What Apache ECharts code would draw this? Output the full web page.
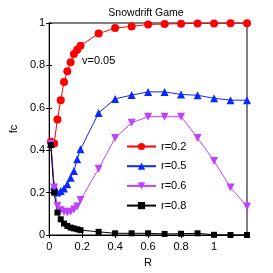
<!DOCTYPE html>
<html><head><meta charset="utf-8">
<script src="https://cdn.jsdelivr.net/npm/echarts@6/dist/echarts.min.js"></script>
<style>html,body{margin:0;padding:0;background:#fff}#c{width:273px;height:273px}</style>
</head><body><div id="c"></div>
<script>
const R = [0.01,0.03,0.05,0.07,0.09,0.11,0.13,0.15,0.17,0.19,0.3,0.4,0.5,0.6,0.7,0.8,0.9,1.0,1.1,1.2];
const fc_r02 = [0.44,0.432,0.545,0.636,0.722,0.772,0.815,0.854,0.874,0.893,0.950,0.976,0.984,0.993,0.995,0.997,0.998,0.998,0.999,0.999];
const fc_r05 = [0.43,0.231,0.2,0.208,0.219,0.239,0.27,0.302,0.357,0.404,0.576,0.642,0.66,0.675,0.675,0.663,0.659,0.645,0.636,0.636];
const fc_r06 = [0.43,0.224,0.137,0.117,0.11,0.106,0.11,0.12,0.135,0.165,0.313,0.458,0.529,0.558,0.558,0.558,0.458,0.349,0.224,0.134];
const fc_r08 = [0.424,0.2,0.106,0.074,0.054,0.043,0.035,0.031,0.027,0.023,0.015,0.008,0.008,0.008,0.005,0.006,0.008,0.001,0,0];
const seriesNames = ['r=0.2','r=0.5','r=0.6','r=0.8'];
const xTicks = [0,0.2,0.4,0.6,0.8,1];
const yTicks = [0,0.2,0.4,0.6,0.8,1];

const F = 'Liberation Sans, Arial, sans-serif';
const chart = echarts.init(document.getElementById('c'), null, {renderer:'canvas'});
const pair = a => R.map((x,i)=>[x,a[i]]);
const mk = (name, data, color, symbol, size, rotate) => ({
  name, type:'line', data: pair(data), symbol, symbolSize:size, symbolRotate: rotate||0,
  lineStyle:{color, width:1}, itemStyle:{color}, animation:false, z: 3
});
const axisCommon = {
  axisLine:{show:true, lineStyle:{color:'#000', width:1}},
  axisTick:{show:true, inside:true, length:3, lineStyle:{color:'#000'}},
  splitLine:{show:false}
};
chart.setOption({
  animation:false,
  title:{text:'Snowdrift Game', left:141, top:3, textAlign:'center',
    textStyle:{fontFamily:F, fontSize:10.5, fontWeight:'normal', color:'#000'}},
  grid:{left:36, right:26, top:23, bottom:37, show:true, borderColor:'#000', borderWidth:1},
  xAxis:[
    Object.assign({type:'value', min:0, max:1.2, interval:0.2, position:'bottom',
      name:'R', nameLocation:'middle', nameGap:22,
      nameTextStyle:{fontFamily:F, fontSize:11, color:'#000'},
      axisLabel:{fontFamily:F, fontSize:11, color:'#000', margin:6,
        formatter: v => xTicks.some(t=>Math.abs(t-v)<1e-9) ? String(+v.toFixed(1)) : ''}}, axisCommon),
    Object.assign({type:'value', min:0, max:1.2, interval:0.2, position:'top', axisLabel:{show:false}}, axisCommon)
  ],
  yAxis:[
    Object.assign({type:'value', min:0, max:1, interval:0.2, position:'left',
      name:'fc', nameLocation:'middle', nameGap:22,
      nameTextStyle:{fontFamily:F, fontSize:11, color:'#000'},
      axisLabel:{fontFamily:F, fontSize:11, color:'#000', margin:4,
        formatter: v => yTicks.some(t=>Math.abs(t-v)<1e-9) ? String(+v.toFixed(1)) : ''}}, axisCommon),
    Object.assign({type:'value', min:0, max:1, interval:0.2, position:'right', axisLabel:{show:false}}, axisCommon)
  ],
  legend:{orient:'vertical', left:126, top:141, padding:0, itemWidth:29, itemHeight:9, itemGap:8.7,
    data:seriesNames,
    textStyle:{fontFamily:F, fontSize:11, color:'#000'}},
  graphic:[{type:'text', left:82, top:55, style:{text:'v=0.05', font:'11px Liberation Sans', fill:'#000'}}],
  series:[
    mk(seriesNames[0], fc_r02, '#ff0000', 'circle', 8),
    mk(seriesNames[1], fc_r05, '#0a28ff', 'triangle', 8),
    mk(seriesNames[2], fc_r06, '#bf40ff', 'triangle', 8, 180),
    mk(seriesNames[3], fc_r08, '#000000', 'rect', 6)
  ]
});
</script></body></html>
